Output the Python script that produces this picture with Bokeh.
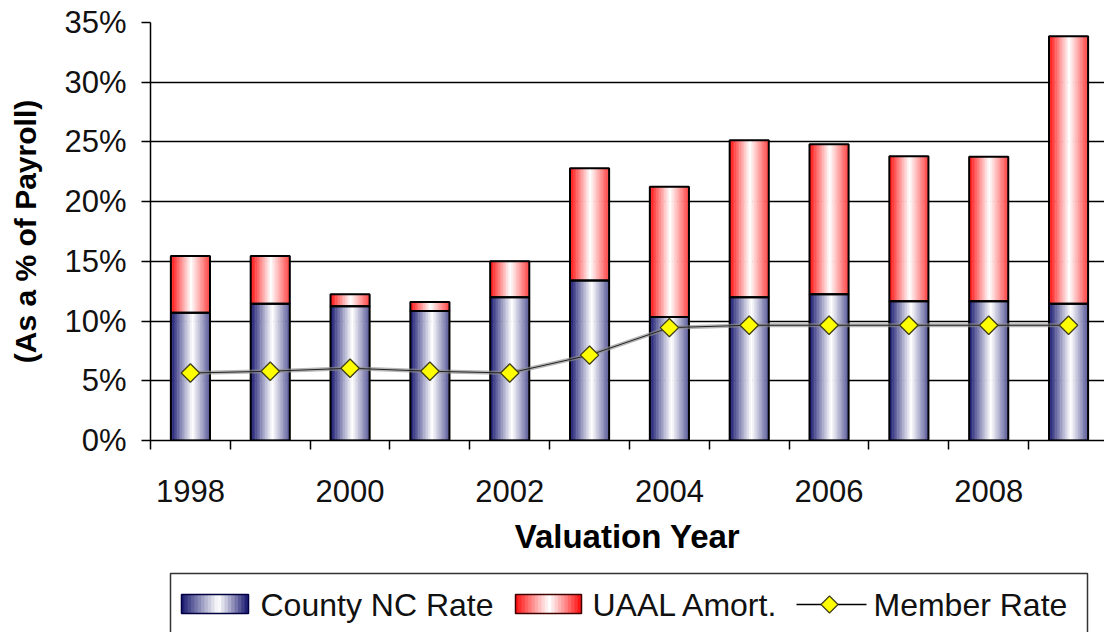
import numpy as np
from bokeh.plotting import figure
from bokeh.models import ColumnDataSource, FixedTicker, Range1d
from bokeh.layouts import column
from bokeh.embed import file_html
from bokeh.resources import INLINE
from bokeh.core.properties import value

# ---------------- data ----------------
years = [1998, 1999, 2000, 2001, 2002, 2003, 2004, 2005, 2006, 2007, 2008, 2009]
county_nc_rate = [10.70, 11.45, 11.25, 10.85, 12.00, 13.40, 10.35, 12.00, 12.25, 11.65, 11.65, 11.45]
uaal_amort = [4.75, 4.00, 1.00, 0.75, 3.00, 9.40, 10.90, 13.15, 12.55, 12.15, 12.10, 22.40]
member_rate = [5.65, 5.80, 6.05, 5.80, 5.65, 7.15, 9.45, 9.65, 9.65, 9.65, 9.65, 9.65]

y_tick_values = [0, 5, 10, 15, 20, 25, 30, 35]
y_tick_labels = ["0%", "5%", "10%", "15%", "20%", "25%", "30%", "35%"]
x_tick_values = [1998, 2000, 2002, 2004, 2006, 2008]
x_tick_labels = ["1998", "2000", "2002", "2004", "2006", "2008"]

series_names = ["County NC Rate", "UAAL Amort.", "Member Rate"]

FONT = "Liberation Sans"
BAR_W = 0.49
N_STRIPS = 24

W = 1104
MAIN_H = 570
LEG_H = 62
FRAME_L = 150
FRAME_T = 22
FRAME_B = 440


def mix(base, a):
    r = int(round(255 * (1 - a) + base[0] * a))
    g = int(round(255 * (1 - a) + base[1] * a))
    b = int(round(255 * (1 - a) + base[2] * a))
    return "#%02x%02x%02x" % (r, g, b)


def blue_grad(t, right_strength=0.72):
    c = 0.56
    if t < c:
        a = ((c - t) / c) ** 1.05
    else:
        a = ((t - c) / (1 - c)) ** 1.05 * right_strength
    return mix((20, 20, 110), a)


def red_grad(t, right_strength=0.78):
    c = 0.52
    if t < c:
        a = ((c - t) / c) ** 1.05
    else:
        a = ((t - c) / (1 - c)) ** 1.05 * right_strength
    return mix((255, 10, 10), a)


def strips(xs, bottoms, tops, width, color_fn, n):
    sx, sb, st, sc = [], [], [], []
    sw = width / n
    for x, b, t in zip(xs, bottoms, tops):
        for j in range(n):
            sx.append(x - width / 2 + (j + 0.5) * sw)
            sb.append(b)
            st.append(t)
            sc.append(color_fn((j + 0.5) / n))
    return ColumnDataSource(dict(x=sx, bottom=sb, top=st, color=sc)), sw


nc_bottom = [0.0] * len(years)
nc_top = list(county_nc_rate)
ua_bottom = list(county_nc_rate)
ua_top = [a + b for a, b in zip(county_nc_rate, uaal_amort)]

# ---------------- main figure ----------------
cat_px = 79.83
x_end = years[0] - 0.5 + (W - FRAME_L) / cat_px
p = figure(width=W, height=MAIN_H,
           x_range=Range1d(years[0] - 0.5, x_end), y_range=Range1d(0, 35),
           output_backend="svg", toolbar_location=None,
           min_border_left=FRAME_L, min_border_top=FRAME_T,
           min_border_right=0, min_border_bottom=MAIN_H - FRAME_B)
p.outline_line_color = None
p.background_fill_color = "white"

p.xgrid.visible = False
p.ygrid.ticker = FixedTicker(ticks=y_tick_values)
p.ygrid.grid_line_color = "black"
p.ygrid.grid_line_width = 1.5

# bars with gradient strips
src_nc, sw = strips(years, nc_bottom, nc_top, BAR_W, blue_grad, N_STRIPS)
p.vbar(x="x", bottom="bottom", top="top", width=sw * 1.3, source=src_nc,
       fill_color="color", line_color=None)
src_ua, sw = strips(years, ua_bottom, ua_top, BAR_W, red_grad, N_STRIPS)
p.vbar(x="x", bottom="bottom", top="top", width=sw * 1.3, source=src_ua,
       fill_color="color", line_color=None)

p.vbar(x=years, bottom=nc_bottom, top=nc_top, width=BAR_W,
       fill_color=None, line_color="black", line_width=2)
p.vbar(x=years, bottom=ua_bottom, top=ua_top, width=BAR_W,
       fill_color=None, line_color="black", line_width=2)

# member rate line
p.line(years, member_rate, line_color="#8f8f8f", line_width=4, line_alpha=0.65)
p.line(years, member_rate, line_color="#222222", line_width=1)
p.scatter(years, member_rate, marker="square", angle=np.pi / 4, size=13,
          fill_color="#ffff00", line_color="#3f3f18", line_width=1.3)

# axes
p.yaxis.ticker = FixedTicker(ticks=y_tick_values)
p.yaxis.major_label_overrides = {v: l for v, l in zip(y_tick_values, y_tick_labels)}
p.yaxis.axis_label = "(As a % of Payroll)"
p.yaxis.major_tick_out = 9
p.yaxis.major_tick_in = 0
p.yaxis.minor_tick_line_color = None
p.yaxis.major_label_standoff = 15
p.yaxis.axis_label_standoff = 19
p.yaxis.axis_label_text_font_size = "30px"

p.xaxis.ticker = FixedTicker(ticks=x_tick_values,
                             minor_ticks=[y - 0.5 for y in years] + [years[-1] + 0.5])
p.xaxis.major_label_overrides = {v: l for v, l in zip(x_tick_values, x_tick_labels)}
p.xaxis.axis_label = "Valuation Year"
p.xaxis.major_tick_line_color = None
p.xaxis.major_tick_out = 9
p.xaxis.major_tick_in = 0
p.xaxis.minor_tick_out = 9
p.xaxis.minor_tick_in = 0
p.xaxis.minor_tick_line_color = "black"
p.xaxis.minor_tick_line_width = 1.5
p.xaxis.major_label_standoff = 30
p.xaxis.axis_label_standoff = 13
p.xaxis.axis_label_text_font_size = "33px"

for ax in (p.xaxis, p.yaxis):
    ax.axis_line_color = "black"
    ax.axis_line_width = 1.5
    ax.major_tick_line_width = 1.5
    ax.major_label_text_font = FONT
    ax.major_label_text_font_size = "31px"
    ax.major_label_text_color = "#111111"
    ax.axis_label_text_font = FONT
    ax.axis_label_text_font_style = "bold"
    ax.axis_label_text_color = "black"

# ---------------- legend figure ----------------
leg_top = MAIN_H
leg_bot = MAIN_H + LEG_H
lg = figure(width=W, height=LEG_H, x_range=Range1d(FRAME_L, W), y_range=Range1d(leg_bot, leg_top),
            output_backend="svg", toolbar_location=None,
            x_axis_type=None, y_axis_type=None,
            min_border_left=FRAME_L, min_border_right=0, min_border_top=0, min_border_bottom=0)
lg.outline_line_color = None
lg.xgrid.visible = False
lg.ygrid.visible = False

lg.quad(left=170, right=1087, top=573, bottom=leg_bot + 30, fill_color=None,
        line_color="#333333", line_width=1.5)


def swatch(fig, x0, x1, y0, y1, color_fn, edge):
    n = 20
    w = (x1 - x0) / n
    xs = [x0 + (j + 0.5) * w for j in range(n)]
    cs = [color_fn((j + 0.5) / n, 1.0) for j in range(n)]
    fig.vbar(x=xs, width=w * 1.3, bottom=y1, top=y0, fill_color=cs, line_color=None)
    fig.quad(left=x0, right=x1, top=y0, bottom=y1, fill_color=None,
             line_color=edge, line_width=1.5)


swatch(lg, 181, 248, 594, 613, blue_grad, "#000040")
swatch(lg, 515, 581, 594, 613, red_grad, "#400000")

lg.line([796, 866], [604, 604], line_color="black", line_width=1.5)
lg.scatter([829], [604], marker="square", angle=np.pi / 4, size=12,
           fill_color="#ffff00", line_color="#3f3f18", line_width=1.2)

lg.text(x=[260, 592, 873], y=[604, 604, 604], text=series_names,
        text_font=value(FONT), text_font_size="32px", text_baseline="middle",
        text_align="left", text_color="#111111")

layout = column(p, lg, spacing=0)
open("out.html", "w").write(file_html(layout, INLINE))
